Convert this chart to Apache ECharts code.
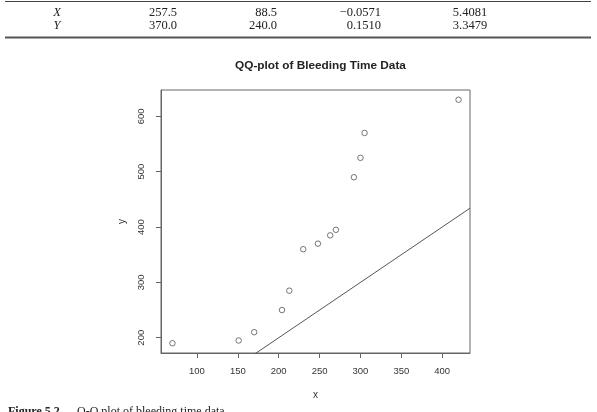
<!DOCTYPE html>
<html>
<head>
<meta charset="utf-8">
<script src="https://cdn.jsdelivr.net/npm/echarts@6/dist/echarts.min.js"></script>
<style>
	html, body {margin: 0; padding: 0; background: #fff;}
	#chart {width: 597px; height: 412px;}
</style>
</head>
<body>
<div id="chart"></div>
<script>
// sorted samples (quantiles)
const xQuantiles = [70, 151, 170, 204, 213, 230, 248, 263, 270, 292, 300, 305, 420]
const yQuantiles = [190, 195, 210, 250, 285, 360, 370, 385, 395, 490, 525, 570, 630]

// reference line y = a + b*x
const ablineIntercept = 0
const ablineSlope = 1

const xTicks = [100, 150, 200, 250, 300, 350, 400]
const yTicks = [200, 300, 400, 500, 600]

// summary table above the figure
const tableRowNames = ['X', 'Y']
const tableCol1 = ['257.5', '370.0']
const tableCol2 = ['88.5', '240.0']
const tableCol3 = ['\u22120.0571', '0.1510']
const tableCol4 = ['5.4081', '3.3479']

const captionLabel = 'Figure 5.2.'
const captionText = 'Q-Q plot of bleeding time data.'

// R style axis range: data range padded by 4%
const padRange = vals => {
	const lo = Math.min(...vals), hi = Math.max(...vals)
	const d = (hi - lo) * 0.04
	return [lo - d, hi + d]
}
const [xMin, xMax] = padRange(xQuantiles)
const [yMin, yMax] = padRange(yQuantiles)

const points = xQuantiles.map((x, i) => [x, yQuantiles[i]])
const ablineData = [xMin, xMax].map(x => [x, ablineIntercept + ablineSlope * x])

const axisGrey = '#666'
const textGrey = '#333'
const sans = '"Liberation Sans", Arial, sans-serif'
const serif = '"Liberation Serif", "DejaVu Serif", serif'

const tableText = []
const rowY = [12.5, 26]
tableRowNames.forEach((name, i) => {
	tableText.push({type: 'text', x: 57, y: rowY[i], style: {text: name, font: 'italic 12.5px ' + serif, fill: '#222', align: 'center', verticalAlign: 'middle'}})
	tableText.push({type: 'text', x: 163, y: rowY[i], style: {text: tableCol1[i], font: '12.5px ' + serif, fill: '#222', align: 'center', verticalAlign: 'middle'}})
	tableText.push({type: 'text', x: 277, y: rowY[i], style: {text: tableCol2[i], font: '12.5px ' + serif, fill: '#222', align: 'right', verticalAlign: 'middle'}})
	tableText.push({type: 'text', x: 381, y: rowY[i], style: {text: tableCol3[i], font: '12.5px ' + serif, fill: '#222', align: 'right', verticalAlign: 'middle'}})
	tableText.push({type: 'text', x: 470, y: rowY[i], style: {text: tableCol4[i], font: '12.5px ' + serif, fill: '#222', align: 'center', verticalAlign: 'middle'}})
})

const chart = echarts.init(document.getElementById('chart'), null, {renderer: 'canvas'})

chart.setOption({
	animation: false,
	backgroundColor: '#fff',
	title: {
		text: 'QQ-plot of Bleeding Time Data',
		left: 315.5,
		textAlign: 'center',
		top: 55,
		textStyle: {
			fontFamily: sans,
			fontSize: 11.8,
			fontWeight: 'bold',
			color: '#222'
		}
	},
	grid: {
		left: 161,
		right: 127,
		top: 90,
		bottom: 59,
		show: true,
		borderColor: axisGrey,
		borderWidth: 1,
		backgroundColor: 'transparent'
	},
	xAxis: {
		type: 'value',
		min: xMin,
		max: xMax,
		name: 'x',
		nameLocation: 'middle',
		nameGap: 37,
		nameTextStyle: {fontFamily: sans, fontSize: 10, color: textGrey},
		splitLine: {show: false},
		axisLine: {show: true, lineStyle: {color: axisGrey}},
		axisTick: {show: true, length: 5, lineStyle: {color: axisGrey}, customValues: xTicks},
		axisLabel: {
			customValues: xTicks,
			margin: 13,
			fontFamily: sans,
			fontSize: 9.5,
			color: textGrey
		}
	},
	yAxis: {
		type: 'value',
		min: yMin,
		max: yMax,
		name: 'y',
		nameLocation: 'middle',
		nameGap: 34,
		nameTextStyle: {fontFamily: sans, fontSize: 10, color: textGrey},
		splitLine: {show: false},
		axisLine: {show: true, lineStyle: {color: axisGrey}},
		axisTick: {show: true, length: 5, lineStyle: {color: axisGrey}, customValues: yTicks},
		axisLabel: {
			customValues: yTicks,
			rotate: 90,
			margin: 15,
			fontFamily: sans,
			fontSize: 9.5,
			color: textGrey
		}
	},
	series: [
		{
			type: 'scatter',
			data: points,
			symbol: 'circle',
			symbolSize: 5.5,
			itemStyle: {color: '#fff', borderColor: '#555', borderWidth: 1}
		},
		{
			type: 'line',
			data: ablineData,
			clip: true,
			symbol: 'none',
			lineStyle: {color: '#555', width: 1}
		}
	],
	graphic: [
		{type: 'line', shape: {x1: 5, y1: 1.5, x2: 591, y2: 1.5}, style: {stroke: '#444', lineWidth: 1}},
		{type: 'line', shape: {x1: 5, y1: 37.5, x2: 591, y2: 37.5}, style: {stroke: '#555', lineWidth: 2}},
		...tableText,
		{type: 'text', left: 8, top: 406, style: {text: captionLabel, font: 'bold 12px ' + serif, fill: '#222'}},
		{type: 'text', left: 77, top: 406, style: {text: captionText, font: '12px ' + serif, fill: '#222'}}
	]
})
</script>
</body>
</html>
